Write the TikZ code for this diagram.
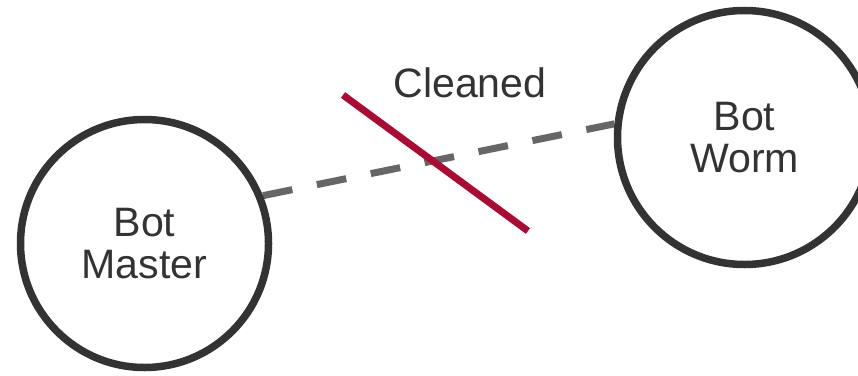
\documentclass[tikz,border=0pt]{standalone}
\usepackage{fontspec}
\setmainfont{Liberation Sans}
\usepackage{xcolor}
\usepackage{tikz}
\usetikzlibrary{positioning, backgrounds}
\definecolor{ringgray}{HTML}{333333}
\definecolor{linkgray}{HTML}{666666}
\definecolor{cutred}{RGB}{168,12,52}

\begin{document}
\begin{tikzpicture}[
  bot/.style={circle, draw=ringgray, line width=0.075cm, fill=white, minimum size=2.48cm,
    inner sep=0pt, align=center, text=ringgray, font=\fontsize{11.7pt}{12.2pt}\selectfont},
  link/.style={linkgray, line width=0.07cm, dash pattern=on 0.3cm off 0.25cm},
  cut/.style={cutred, line width=0.07cm}]
  % 画布范围
  \useasboundingbox (0,0) rectangle (8.58,3.75);
  % 主控端
  \node[bot] (master) at (1.445,1.315) {Bot\\Master};
  % 蠕虫端
  \node[bot, minimum size=2.54cm] (worm) at (7.445,2.375) {Bot\\Worm};
  % 连接虚线（压在圆环下面）
  \begin{scope}[on background layer]
    \draw[link] (master.22) -- (worm.174);
  \end{scope}
  % 切断线
  \coordinate (cutA) at (3.43,2.80);
  \coordinate (cutB) at (5.28,1.44);
  \draw[cut] (cutA) -- (cutB);
  % 标签
  \node[text=ringgray, anchor=base, font=\fontsize{11.7pt}{12.2pt}\selectfont] (cleaned) at (4.70,2.78) {Cleaned};
\end{tikzpicture}
\end{document}
